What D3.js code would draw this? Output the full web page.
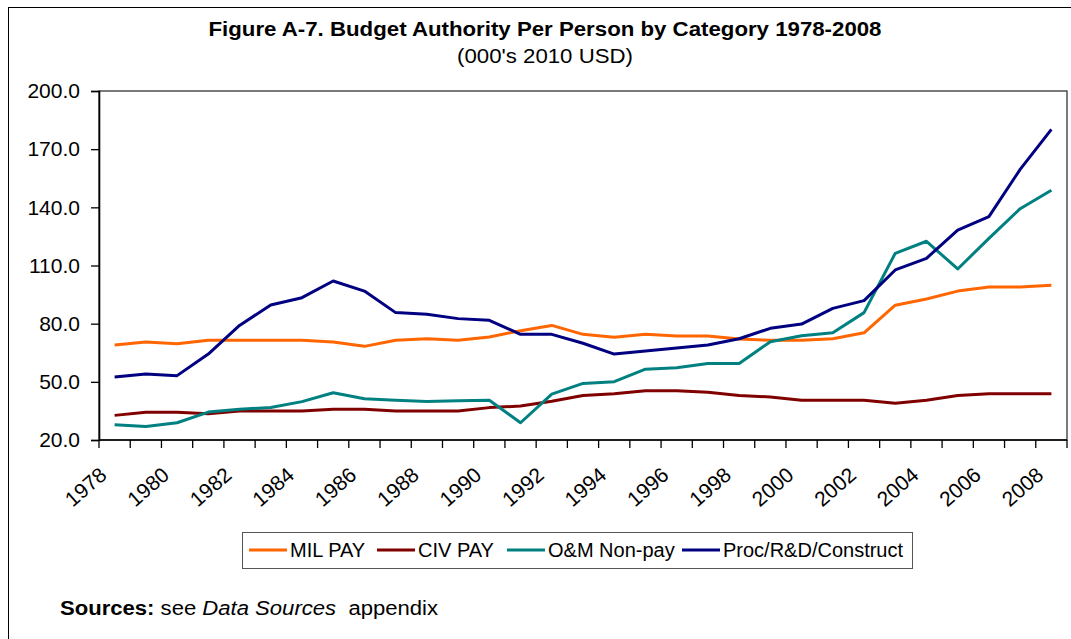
<!DOCTYPE html>
<html>
<head>
<meta charset="utf-8">
<script src="https://cdn.jsdelivr.net/npm/d3@7/dist/d3.min.js"></script>
<style>
  html, body { margin: 0; padding: 0; background: #fff; }
  svg { display: block; font-family: "Liberation Sans", Arial, sans-serif; }
</style>
</head>
<body>
<svg id="chart" width="1071" height="639"></svg>
<script>
const years = d3.range(1978, 2009);
const tickYears = years.filter(y => y % 2 === 0);
const yTicks = [20, 50, 80, 110, 140, 170, 200];

const milPay = [69.0, 70.5, 69.7, 71.4, 71.4, 71.4, 71.4, 70.5, 68.3, 71.4, 72.2, 71.4, 73.1, 76.4, 79.1, 74.5, 73.0, 74.5, 73.6, 73.6, 72.1, 71.4, 71.4, 72.2, 75.3, 89.5, 92.7, 96.8, 98.9, 98.9, 99.8];
const civPay = [32.7, 34.3, 34.3, 33.6, 35.0, 35.0, 35.0, 35.8, 35.8, 35.0, 35.0, 35.0, 36.7, 37.5, 40.0, 43.0, 43.9, 45.4, 45.4, 44.6, 43.0, 42.2, 40.5, 40.5, 40.5, 38.9, 40.5, 43.0, 43.9, 43.9, 43.9];
const omNonPay = [27.9, 27.0, 28.9, 34.4, 35.8, 36.8, 39.8, 44.4, 41.3, 40.5, 39.8, 40.3, 40.5, 28.9, 43.7, 49.2, 50.1, 56.5, 57.3, 59.5, 59.5, 70.7, 73.8, 75.3, 85.7, 116.3, 122.5, 108.2, 124.0, 139.3, 148.8];
const procRdCon = [52.5, 54.0, 53.2, 64.3, 79.1, 89.6, 93.4, 102.0, 96.8, 85.7, 84.8, 82.6, 81.7, 74.5, 74.5, 69.9, 64.3, 65.9, 67.4, 69.0, 72.2, 77.6, 79.8, 87.9, 91.9, 107.7, 113.7, 128.3, 135.2, 159.6, 180.2];

const seriesNames = ["MIL PAY", "CIV PAY", "O&M Non-pay", "Proc/R&D/Construct"];
const seriesValues = [milPay, civPay, omNonPay, procRdCon];
const seriesColors = ["#FF6600", "#800000", "#008080", "#000080"];

const series = seriesNames.map((name, i) => ({ name, values: seriesValues[i], color: seriesColors[i] }));

const svg = d3.select("#chart");

// outer frame
svg.append("rect").attr("x", 8.5).attr("y", 7.5).attr("width", 1100).attr("height", 700)
  .attr("fill", "none").attr("stroke", "#000").attr("stroke-width", 1);

const pLeft = 99, pRight = 1067, pTop = 91, pBottom = 440;

const x = d3.scaleBand().domain(years).range([pLeft, pRight]).paddingInner(0).paddingOuter(0);
const xc = yr => x(yr) + x.bandwidth() / 2;
const y = d3.scaleLinear().domain([20, 200]).range([pBottom, pTop]);

// Title
svg.append("text").attr("x", 545).attr("y", 36).attr("text-anchor", "middle")
  .attr("font-size", 19.5).attr("font-weight", "bold")
  .attr("textLength", 673).attr("lengthAdjust", "spacingAndGlyphs")
  .text("Figure A-7. Budget Authority Per Person by Category 1978-2008");
svg.append("text").attr("x", 545).attr("y", 63).attr("text-anchor", "middle")
  .attr("font-size", 19.5)
  .attr("textLength", 176).attr("lengthAdjust", "spacingAndGlyphs")
  .text("(000's 2010 USD)");

// plot border
svg.append("rect").attr("x", pLeft).attr("y", pTop).attr("width", pRight - pLeft).attr("height", pBottom - pTop)
  .attr("fill", "none").attr("stroke", "#333").attr("stroke-width", 1.3);

// y axis
const yAxis = d3.axisLeft(y).tickValues(yTicks).tickFormat(d3.format(".1f")).tickSize(8).tickPadding(11);
const gy = svg.append("g").attr("transform", `translate(${pLeft},0)`).call(yAxis);
gy.select(".domain").attr("stroke", "#000").attr("stroke-width", 1.6);
gy.selectAll(".tick line").attr("stroke", "#000").attr("stroke-width", 1.3);
gy.selectAll(".tick text").attr("font-size", 21).attr("font-family", "Liberation Sans, Arial, sans-serif").attr("fill", "#000");

// x axis line
svg.append("line").attr("x1", pLeft).attr("x2", pRight).attr("y1", pBottom).attr("y2", pBottom)
  .attr("stroke", "#000").attr("stroke-width", 1.6);
// x ticks at band boundaries
const boundaries = years.map(yr => x(yr)).concat([pRight]);
svg.append("g").selectAll("line").data(boundaries).join("line")
  .attr("x1", d => d).attr("x2", d => d).attr("y1", pBottom).attr("y2", pBottom + 8)
  .attr("stroke", "#000").attr("stroke-width", 1.3);
// x labels
svg.append("g").selectAll("text").data(tickYears).join("text")
  .attr("transform", d => `translate(${xc(d) - 6.5},477) rotate(-41)`)
  .attr("text-anchor", "end").attr("font-size", 21).attr("fill", "#000")
  .text(d => d);

// lines
const line = d3.line().x((d, i) => xc(years[i])).y(d => y(d));
svg.append("g").selectAll("path").data(series).join("path")
  .attr("d", d => line(d.values))
  .attr("fill", "none").attr("stroke", d => d.color).attr("stroke-width", 3)
  .attr("stroke-linejoin", "round");

// legend
const lg = svg.append("g");
lg.append("rect").attr("x", 242.5).attr("y", 532.5).attr("width", 670).attr("height", 36)
  .attr("fill", "#fff").attr("stroke", "#555").attr("stroke-width", 1);
const legendLineX = [249, 377, 507, 682];
series.forEach((s, i) => {
  lg.append("line").attr("x1", legendLineX[i]).attr("x2", legendLineX[i] + 38).attr("y1", 550).attr("y2", 550)
    .attr("stroke", s.color).attr("stroke-width", 3);
  lg.append("text").attr("x", legendLineX[i] + 41).attr("y", 557).attr("font-size", 20).attr("fill", "#000")
    .text(s.name);
});

// sources
const src = svg.append("text").attr("x", 60).attr("y", 615).attr("font-size", 19.5).attr("fill", "#000")
  .attr("textLength", 378).attr("lengthAdjust", "spacingAndGlyphs");
src.append("tspan").attr("font-weight", "bold").text("Sources:");
src.append("tspan").text(" see ");
src.append("tspan").attr("font-style", "italic").text("Data Sources");
src.append("tspan").text("\u00a0 appendix");
</script>
</body>
</html>
